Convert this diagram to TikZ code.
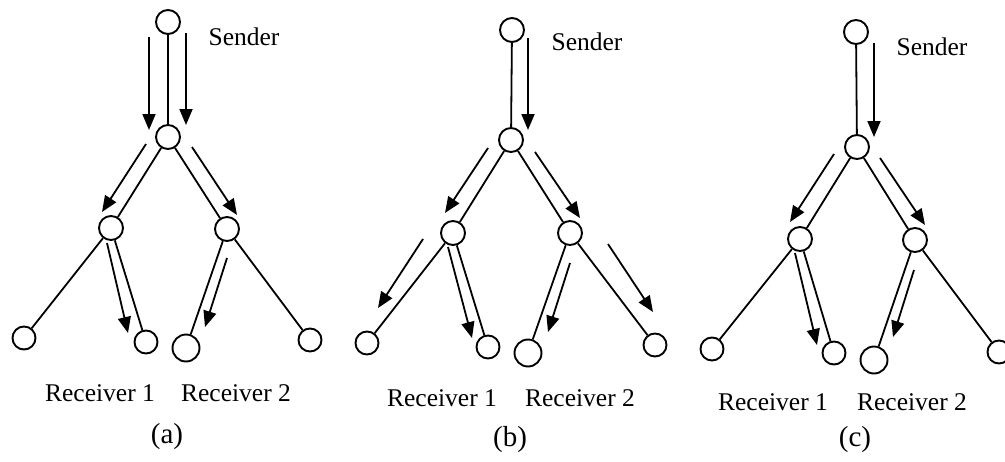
\documentclass[tikz,border=0pt]{standalone}
\usepackage{fontspec}
\setmainfont{Liberation Serif}
\usetikzlibrary{arrows.meta}
\begin{document}
\begin{tikzpicture}[x=1pt,y=-1pt,
  nd/.style={circle, draw, line width=1.9pt, minimum size=24pt, inner sep=0pt, fill=white},
  big/.style={minimum size=27pt},
  small/.style={minimum size=23pt},
  edge/.style={line width=1.8pt},
  flow/.style={line width=1.8pt, -{Triangle[length=16pt,width=13pt]}},
  lbl/.style={font=\fontsize{25.5}{30}\selectfont, inner sep=0pt},
  captext/.style={font=\fontsize{29}{34}\selectfont, inner sep=0pt}]
\useasboundingbox (0,0) rectangle (1005,461);
\begin{scope}
\clip (0,0) rectangle (1005,461);
% ---------- panel (a)
\node[nd] (aS) at (168,22) {};
\node[nd] (aM) at (168,137) {};
\node[nd] (aL) at (111,228) {};
\node[nd] (aR) at (227,229) {};
\node[nd,small] (aLL) at (24,338) {};
\node[nd,small] (aLR) at (146,342) {};
\node[nd,big] (aRL) at (186,348) {};
\node[nd,small] (aRR) at (310,340) {};
\draw[edge] (aS) -- (aM);
\draw[edge] (aM) -- (aL);
\draw[edge] (aM) -- (aR);
\draw[edge] (aL) -- (aLL);
\draw[edge] (aL) -- (aLR);
\draw[edge] (aR) -- (aRL);
\draw[edge] (aR) -- (aRR);
\draw[flow] (149,37) -- (149,130);
\draw[flow] (186,33) -- (186,125);
\draw[flow] (146,144) -- (102,212);
\draw[flow] (192,147) -- (237,215);
\draw[flow] (107,243) -- (128,333);
\draw[flow] (227,258) -- (205,327);
\node[lbl] (aSt) at (244,37) {Sender};
\node[lbl] (aR1) at (100,393) {Receiver 1};
\node[lbl] (aR2) at (236,393) {Receiver 2};
\node[captext] (acap) at (167,437) {(a)};
% ---------- panel (b)
\node[nd] (bS) at (512,30) {};
\node[nd] (bM) at (511,140) {};
\node[nd] (bL) at (453,233) {};
\node[nd] (bR) at (570,233) {};
\node[nd,small] (bLL) at (367,343) {};
\node[nd,small] (bLR) at (488,347) {};
\node[nd,big] (bRL) at (528,353) {};
\node[nd,small] (bRR) at (655,345) {};
\draw[edge] (bS) -- (bM);
\draw[edge] (bM) -- (bL);
\draw[edge] (bM) -- (bR);
\draw[edge] (bL) -- (bLL);
\draw[edge] (bL) -- (bLR);
\draw[edge] (bR) -- (bRL);
\draw[edge] (bR) -- (bRR);
\draw[flow] (528,38) -- (528,130);
\draw[flow] (488,148) -- (445,213);
\draw[flow] (535,152) -- (580,218);
\draw[flow] (423,239) -- (378,308);
\draw[flow] (448,247) -- (472,338);
\draw[flow] (570,263) -- (548,332);
\draw[flow] (608,244) -- (653,312);
\node[lbl] (bSt) at (587,42) {Sender};
\node[lbl] (bR1) at (442,398) {Receiver 1};
\node[lbl] (bR2) at (580,398) {Receiver 2};
\node[captext] (bcap) at (510,440) {(b)};
% ---------- panel (c)
\node[nd] (cS) at (856,32) {};
\node[nd] (cM) at (857,147) {};
\node[nd] (cL) at (800,239) {};
\node[nd] (cR) at (915,240) {};
\node[nd,small] (cLL) at (712,349) {};
\node[nd,small] (cLR) at (834,353) {};
\node[nd,big] (cRL) at (874,360) {};
\node[nd,small] (cRR) at (999,352) {};
\draw[edge] (cS) -- (cM);
\draw[edge] (cM) -- (cL);
\draw[edge] (cM) -- (cR);
\draw[edge] (cL) -- (cLL);
\draw[edge] (cL) -- (cLR);
\draw[edge] (cR) -- (cRL);
\draw[edge] (cR) -- (cRR);
\draw[flow] (874,43) -- (874,137);
\draw[flow] (834,154) -- (790,222);
\draw[flow] (880,158) -- (925,225);
\draw[flow] (795,253) -- (817,345);
\draw[flow] (914,270) -- (893,337);
\node[lbl] (cSt) at (932,47) {Sender};
\node[lbl] (cR1) at (773,402) {Receiver 1};
\node[lbl] (cR2) at (912,402) {Receiver 2};
\node[captext] (ccap) at (855,440) {(c)};
\end{scope}
\end{tikzpicture}
\end{document}
